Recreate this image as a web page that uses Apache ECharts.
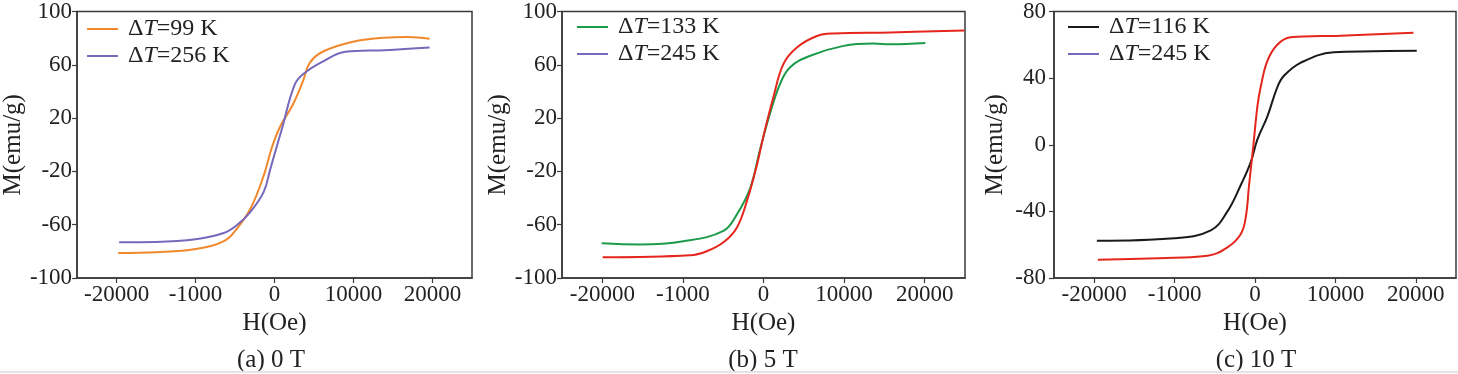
<!DOCTYPE html>
<html>
<head>
<meta charset="utf-8">
<script src="https://cdn.jsdelivr.net/npm/echarts@6/dist/echarts.min.js"></script>
<style>
html,body{margin:0;padding:0;background:#fff;}
#c{width:1458px;height:374px;}
</style>
</head>
<body>
<div id="c"></div>
<script>
// ---- data ----
const xTickValues = [-20000, -10000, 0, 10000, 20000];
const xTickLabels = ['-20000', '-1000', '0', '10000', '20000'];
const yTicksAB = [-100, -60, -20, 20, 60, 100];
const yTicksC = [-80, -40, 0, 40, 80];
const captions = ['(a) 0 T', '(b) 5 T', '(c) 10 T'];

// panel (a) 0 T
const aH99 = [-19790, -15000, -10000, -6340, -4680, -3020, -1370, -330, 700, 2360, 3600, 4430, 6090, 9810, 13950, 16850, 19630];
const aM99 = [-81.2, -80.6, -78.2, -72.1, -62.3, -47.7, -23.2, -2, 13.5, 30.6, 47.7, 61.2, 69.8, 77.1, 80.3, 80.8, 79.6];
const aH256 = [-19670, -15000, -10000, -6340, -4680, -3020, -1370, -540, 80, 910, 2570, 3810, 6090, 8980, 13950, 19630];
const aM256 = [-73.1, -72.9, -70.9, -66, -59.9, -50.1, -35.4, -18.3, -5.5, 11.4, 45.3, 53.9, 62.4, 69.8, 71, 73];

// panel (b) 5 T
const bH133 = [-20080, -15320, -9940, -4970, -3310, -1660, -410, 830, 2070, 3310, 5800, 9940, 13660, 15730, 20080];
const bM133 = [-74, -74.9, -72.5, -64.6, -52.3, -32.7, -3.2, 23.8, 45.9, 58.2, 66.8, 74.2, 75.9, 75.4, 76.4];
const bH245 = [-19960, -9110, -7040, -4970, -3310, -2070, -830, 0, 1240, 2480, 4140, 6630, 8700, 15730, 24930];
const bM245 = [-84.5, -83, -79.9, -73.2, -62.2, -42.5, -15.5, 6.6, 36.1, 60.7, 73, 81.6, 83.5, 84.3, 85.7];

// panel (c) 10 T
const cH116 = [-19670, -10040, -5500, -3430, -1780, -540, 290, 1530, 2770, 3600, 5660, 9790, 14750, 20120];
const cM116 = [-57.6, -56.1, -51.4, -40, -24.3, -10.6, 3.1, 16.9, 34.5, 41.4, 49.2, 55.5, 56.1, 56.5];
const cH245 = [-19550, -10040, -5910, -3430, -1780, -1160, -740, -210, 290, 700, 1530, 2770, 4420, 10620, 19710];
const cM245 = [-69, -67.8, -66.7, -61.6, -53.7, -43.9, -24.3, -0.8, 22.7, 34.5, 50.2, 60, 64.5, 65.5, 67.3];

// ---- styling ----
const SERIF = '"Liberation Serif","Times New Roman",serif';
const AX = '#3a3a3a';
const TXT = '#222';
const C_ORANGE = '#f0892c', C_PURPLE = '#7668bb', C_GREEN = '#1b9a4a', C_RED = '#e5261d', C_BLACK = '#1a1a1a';

const zip = (h, m) => h.map((v, i) => [v, m[i]]);

const grids = [
  {left: 70, top: 6, width: 402, height: 272},
  {left: 562, top: 6, width: 403, height: 272},
  {left: 1054, top: 6, width: 402, height: 272}
];
const nameGaps = [47, 49, 46];
const yRanges = [[-100, 100, yTicksAB], [-100, 100, yTicksAB], [-80, 80, yTicksC]];
const yMargins = [5, 5, 8];

const xAxes = grids.map((g, i) => ({
  gridIndex: i, type: 'value', min: -25000, max: 25000,
  axisLine: {show: true, onZero: false, lineStyle: {color: AX, width: 1.5}},
  axisTick: {show: true, inside: false, length: 5, customValues: xTickValues, lineStyle: {color: AX, width: 1.2}},
  axisLabel: {customValues: xTickValues, margin: 5, fontFamily: SERIF, fontSize: 23, color: TXT,
    formatter: v => xTickLabels[xTickValues.indexOf(v)] ?? ''},
  splitLine: {show: false},
  name: 'H(Oe)', nameLocation: 'middle', nameGap: 31,
  nameTextStyle: {fontFamily: SERIF, fontSize: 25, color: TXT}
}));

const yAxes = grids.map((g, i) => ({
  gridIndex: i, type: 'value', min: yRanges[i][0], max: yRanges[i][1],
  axisLine: {show: true, onZero: false, lineStyle: {color: AX, width: 1.5}},
  axisTick: {show: true, inside: false, length: 5, customValues: yRanges[i][2], lineStyle: {color: AX, width: 1.2}},
  axisLabel: {customValues: yRanges[i][2], margin: yMargins[i], fontFamily: SERIF, fontSize: 23, color: TXT},
  splitLine: {show: false},
  name: 'M(emu/g)', nameLocation: 'middle', nameGap: nameGaps[i], nameRotate: 90,
  nameTextStyle: {fontFamily: SERIF, fontSize: 25, color: TXT}
}));

function line(name, idx, data, color) {
  return {
    name, type: 'line', xAxisIndex: idx, yAxisIndex: idx, data,
    symbol: 'none', smooth: 0.4,
    lineStyle: {color, width: 2}, itemStyle: {color},
    emphasis: {disabled: true}, animation: false
  };
}

const series = [
  line('ΔT=99 K', 0, zip(aH99, aM99), C_ORANGE),
  line('ΔT=256 K', 0, zip(aH256, aM256), C_PURPLE),
  line('ΔT=133 K', 1, zip(bH133, bM133), C_GREEN),
  line('ΔT=245 K', 1, zip(bH245, bM245), C_RED),
  line('ΔT=116 K', 2, zip(cH116, cM116), C_BLACK),
  line('ΔT=245 K', 2, zip(cH245, cM245), C_RED)
];

const rich = {
  d0: {fontFamily: SERIF, fontSize: 24, color: TXT, padding: [0, 0, 0, 5]},
  i: {fontFamily: SERIF, fontSize: 24, color: TXT, fontStyle: 'italic'},
  d: {fontFamily: SERIF, fontSize: 24, color: TXT}
};
const legendFmt = name => '{d0|Δ}{i|T}{d|' + name.slice(2) + '}';

function legend(left, top, items) {
  return {
    orient: 'vertical', left, top, padding: 0, itemGap: 1,
    icon: 'rect', itemWidth: 31, itemHeight: 2, selectedMode: false,
    data: items, formatter: legendFmt,
    textStyle: {rich, lineHeight: 26}
  };
}

const purpleItem = {name: 'ΔT=245 K', itemStyle: {color: C_PURPLE}, lineStyle: {color: C_PURPLE}};
const legends = [
  legend(87, 16, [{name: 'ΔT=99 K'}, {name: 'ΔT=256 K'}]),
  legend(577, 14, [{name: 'ΔT=133 K'}, purpleItem]),
  legend(1068, 14, [{name: 'ΔT=116 K'}, purpleItem])
];

const capX = [271, 763, 1256];
const graphic = captions.map((t, i) => ({
  type: 'text', x: capX[i], y: 360,
  style: {text: t, fontFamily: SERIF, fontSize: 25, fill: TXT, align: 'center', verticalAlign: 'middle'}
}));
graphic.push({type: 'line', shape: {x1: 0, y1: 372, x2: 1458, y2: 372}, style: {stroke: '#e4e4e4', lineWidth: 2}});

const chart = echarts.init(document.getElementById('c'), null, {renderer: 'canvas'});
chart.setOption({
  animation: false,
  backgroundColor: '#fff',
  grid: grids.map(g => Object.assign({show: true, borderColor: AX, borderWidth: 1.5, backgroundColor: 'transparent'}, g)),
  xAxis: xAxes,
  yAxis: yAxes,
  legend: legends,
  series,
  graphic
});
</script>
</body>
</html>
